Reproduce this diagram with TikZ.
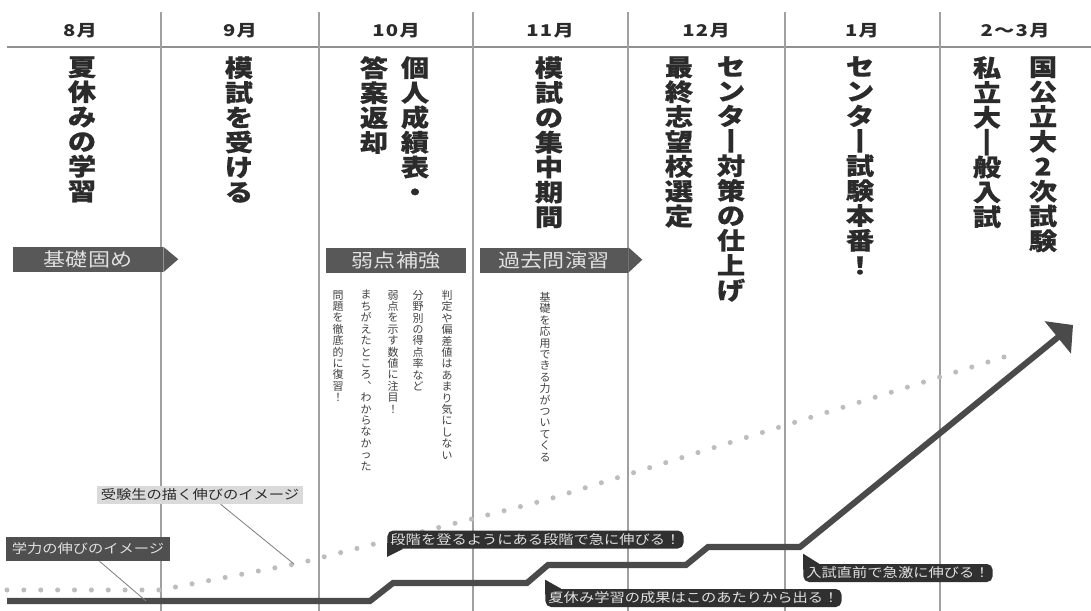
\documentclass[tikz,border=0pt]{standalone}
\usepackage{fontspec}
\usepackage{graphicx}
\usetikzlibrary{arrows.meta, calc}
\newfontfamily\jp{Noto Sans CJK JP}
\newfontfamily\jpwide[FakeStretch=1.18]{Noto Sans CJK JP}
\newfontfamily\jptitle[FakeStretch=1.18, BoldFeatures={FakeBold=0.5}]{Noto Sans CJK JP}
\newfontfamily\jphead[FakeStretch=1.25, LetterSpace=8]{Noto Sans CJK JP}
\newcommand\pxl{0.025cm}
\newcommand\tate[1]{\vbox{\baselineskip=1.04em\lineskiplimit=-1em\lineskip=0pt\expandafter\tateloop#1\tateend}}
\def\tateend{TATEEND}
\def\tateloop#1{\ifx#1\tateend\else\hbox to 1em{\hss#1\hss}\expandafter\tateloop\fi}
\newcommand\tatechoon{\rotatebox[origin=c]{90}{\raisebox{0pt}[0.88em][0.12em]{ー}}}
\newcommand\tateichi{\rotatebox[origin=c]{90}{\raisebox{0pt}[0.88em][0.12em]{一}}}
\definecolor{linegray}{HTML}{4A4A4A}
\definecolor{dotgray}{HTML}{BDBDBD}
\definecolor{bannergray}{HTML}{585858}
\definecolor{calloutgray}{HTML}{303030}
\definecolor{divgray}{HTML}{A0A0A0}
\definecolor{lightbox}{HTML}{DADADA}
\definecolor{inkgray}{HTML}{2B2B2B}
\tikzset{
    divider/.style={draw=divgray, line width=0.8pt},
    rule/.style={draw=divgray!90!black, line width=0.9pt},
    month/.style={font=\jphead\bfseries\fontsize{11.5pt}{12pt}\selectfont, text=inkgray, inner sep=0pt},
    title/.style={font=\jptitle\bfseries\fontsize{17pt}{18pt}\selectfont, text=inkgray, inner sep=0pt, anchor=north},
    note/.style={font=\jp\fontsize{7.8pt}{8.5pt}\selectfont, text=inkgray!90, inner sep=0pt, anchor=north},
    banner/.style={fill=bannergray, text=white!88!black, font=\jpwide\fontsize{13.3pt}{14pt}\selectfont,
        minimum height=25*\pxl, inner sep=0pt},
    callout/.style={fill=calloutgray, text=white!88!black, rounded corners=4pt,
        font=\jpwide\fontsize{9.2pt}{10pt}\selectfont, minimum height=18*\pxl, inner xsep=3*\pxl, inner ysep=0pt},
    dreamlabel/.style={fill=lightbox, text=inkgray, font=\jpwide\fontsize{9.2pt}{10pt}\selectfont,
        minimum height=18*\pxl, minimum width=206*\pxl, inner sep=0pt},
    growlabel/.style={fill=bannergray!90!black, text=white!88!black, font=\jpwide\fontsize{9.2pt}{10pt}\selectfont,
        minimum height=24*\pxl, minimum width=164*\pxl, inner sep=0pt},
    leader/.style={draw=gray, line width=0.6pt},
    dreamline/.style={draw=dotgray, line width=3.6pt, line cap=round, dash pattern=on 0pt off 12pt},
    growth/.style={draw=linegray, line width=4.3pt, -{Triangle[length=14pt, width=29pt]}},
}
\begin{document}
\begin{tikzpicture}[x=\pxl, y=-\pxl]
    \useasboundingbox (0,0) rectangle (1091,611);
    \draw[rule] (7,47) -- (1091,47);
    \foreach \x in {161,319,473,628,785,940} \draw[divider] (\x,12) -- (\x,611);
    \foreach \m/\x [count=\i] in {8月/80,9月/240,10月/396,11月/550,12月/706,1月/862,2〜3月/1015}
        \node[month] (month\i) at (\x,31) {\m};
    \node[title] (natsu) at (82,56) {\tate{夏休みの学習}};
    \node[title] (moshi) at (239,56) {\tate{模試を受ける}};
    \node[title] (kojin) at (415,56) {\tate{個人成績表・}};
    \node[title] (toan) at (374,56) {\tate{答案返却}};
    \node[title] (shuchu) at (549,56) {\tate{模試の集中期間}};
    \node[title] (shiage) at (731,56) {\tate{センタ\tatechoon 対策の仕上げ}};
    \node[title] (shibou) at (679,56) {\tate{最終志望校選定}};
    \node[title] (honban) at (860,56) {\tate{センタ\tatechoon 試験本番！}};
    \node[title] (kokko) at (1043,56) {\tate{国公立大2次試験}};
    \node[title] (shiritsu) at (987,56) {\tate{私立大\tateichi 般入試}};
    \node[banner, minimum width=150*\pxl] (kiso) at (88,259.5) {基礎固め};
    \fill[bannergray] (kiso.north east) -- ++(15,12.5) -- (kiso.south east) -- cycle;
    \node[banner, minimum width=140*\pxl] (jakuten) at (396,260) {弱点補強};
    \node[banner, minimum width=148*\pxl] (kako) at (554,260) {過去問演習};
    \fill[bannergray] (kako.north east) -- ++(14,12.5) -- (kako.south east) -- cycle;
    \foreach \x/\s [count=\i] in {447/判定や偏差値はあまり気にしない, 418/分野別の得点率など,
        393/弱点を示す数値に注目！, 366/まちがえたところ︑わからなかった, 338/問題を徹底的に復習！}
        \node[note] (note\i) at (\x,290) {\tate{\s}};
    \node[note] (ouyou) at (545,292) {\tate{基礎を応用できる力がついてくる}};
    \draw[dreamline] (7,590) -- (160,590) -- (300,563) -- (546,500) -- (1020,352);
    \coordinate (dreampt) at (294,564);
    \draw[growth] (7,601) -- (370,601) -- (393,583) -- (527,583) -- (548,565) -- (686,565)
        -- (708,547) -- (800,547) -- (1073,325);
    \coordinate (growpt) at (146,601);
    \node[dreamlabel] (dream) at (200,495) {受験生の描く伸びのイメージ};
    \node[growlabel] (grow) at (88,549) {学力の伸びのイメージ};
    \draw[leader] ($(dream.south west)!0.6!(dream.south east)$) -- (dreampt);
    \draw[leader] ($(grow.south west)!0.57!(grow.south east)$) -- (growpt);
    \node[callout] (step) at (535.5,539.5) {段階を登るようにある段階で急に伸びる！};
    \fill[calloutgray] ($(step.south west)+(0,-6)$) -- ++(0,14) -- ++(16,-8) -- cycle;
    \node[callout] (summer) at (693.5,598) {夏休み学習の成果はこのあたりから出る！};
    \fill[calloutgray] ($(summer.north west)+(0,6)$) -- ++(0,-15) -- ++(16,9) -- cycle;
    \node[callout] (exam) at (898,573) {入試直前で急激に伸びる！};
    \fill[calloutgray] ($(exam.north west)+(0,6)$) -- ++(0,-16) -- ++(16,10) -- cycle;
\end{tikzpicture}
\end{document}
